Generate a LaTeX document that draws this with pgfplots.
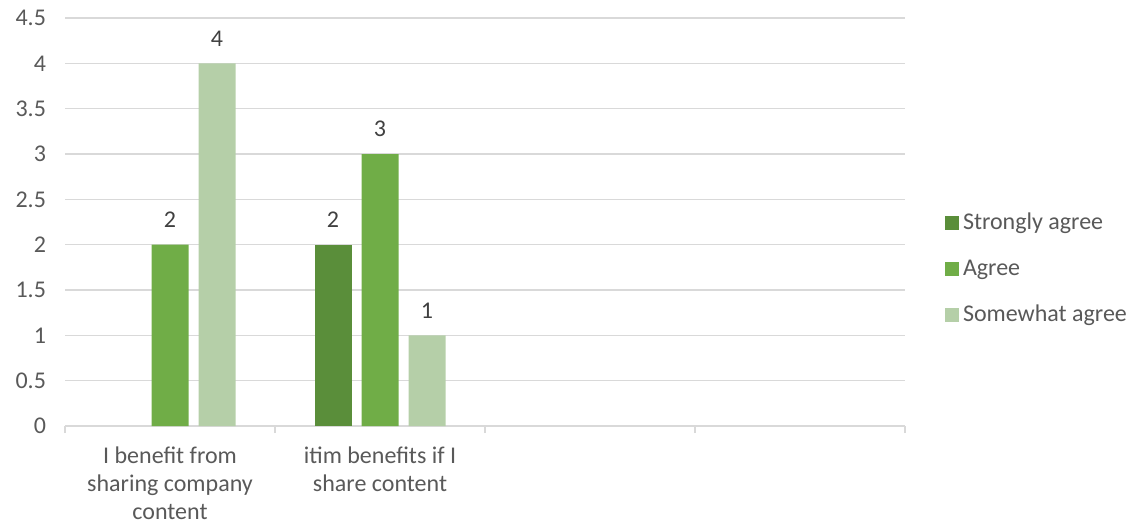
\documentclass[border=0pt]{standalone}
\usepackage{fontspec}
\setmainfont{Carlito}
\usepackage{pgfplots}
\pgfplotsset{compat=1.18}
\definecolor{sa}{HTML}{5A8E3A}
\definecolor{ag}{HTML}{70AD47}
\definecolor{sw}{HTML}{B5CFA8}
\definecolor{gridc}{HTML}{D9D9D9}
\definecolor{txt}{HTML}{595959}
\definecolor{lbl}{HTML}{404040}
\begin{document}
\begin{tikzpicture}
\path[use as bounding box] (0pt,0pt) rectangle (571.5pt,263pt);
\begin{axis}[
  at={(32.5pt,50pt)}, anchor=south west,
  scale only axis, width=420pt, height=204pt,
  font=\fontsize{12}{14.5}\selectfont,
  /pgf/number format/assume math mode=true,
  ymin=0, ymax=4.5,
  ytick={0,0.5,1,1.5,2,2.5,3,3.5,4,4.5},
  yticklabels={0,0.5,1,1.5,2,2.5,3,3.5,4,4.5},
  xmin=-0.5, xmax=3.5,
  xtick={-0.5,0.5,1.5,2.5,3.5},
  xticklabels={},
  extra x ticks={0,1},
  extra x tick labels={{I benefit from\\sharing company\\content},{itim benefits if I\\share content}},
  extra x tick style={major tick length=0pt, tick label style={align=center, text=txt, yshift=-7pt, font=\fontsize{12}{14}\selectfont}},
  axis x line*=bottom, axis y line*=left,
  x axis line style={gridc, line width=0.65pt, -},
  y axis line style={draw=none},
  ymajorgrids, grid style={gridc, line width=0.65pt},
  xtick style={gridc, line width=0.65pt},
  ytick style={draw=none},
  tick align=outside, major tick length=3.5pt,
  yticklabel style={text=txt, xshift=-2.5pt},
  ybar=5pt, bar width=18.5pt,
  nodes near coords,
  nodes near coords style={text=lbl, yshift=5pt},
  legend style={at={(1.04,0.385)}, anchor=west, draw=none, fill=none,
    font=\fontsize{12}{14}\selectfont, text=txt, row sep=9.5pt},
  legend cell align=left,
  legend image code/.code={\fill[#1] (0pt,-3.5pt) rectangle (7pt,3.5pt);},
]
\addplot[fill=sa, draw=none] coordinates {(1,2)};
\addplot[fill=ag, draw=none] coordinates {(0,2) (1,3)};
\addplot[fill=sw, draw=none] coordinates {(0,4) (1,1)};
\legend{Strongly agree, Agree, Somewhat agree}
\end{axis}
\end{tikzpicture}
\end{document}
